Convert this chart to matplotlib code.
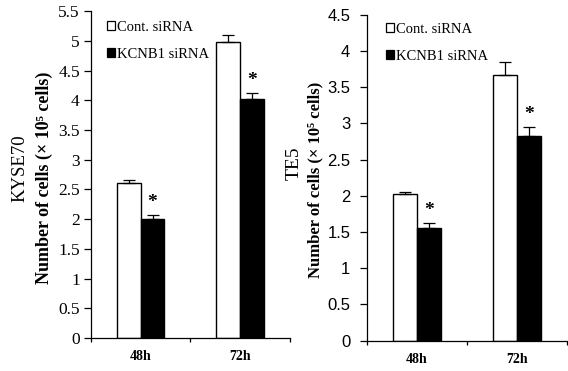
import numpy as np
from matplotlib import pyplot as plt
from matplotlib.patches import Patch

plt.rcParams["font.family"] = ["Liberation Serif", "DejaVu Serif"]

groups = ["48h", "72h"]
series = ["Cont. siRNA", "KCNB1 siRNA"]

# KYSE70 (left panel)
kyse_cont = [2.60, 4.98]
kyse_cont_err = [0.06, 0.11]
kyse_kcnb1 = [2.01, 4.02]
kyse_kcnb1_err = [0.06, 0.11]

# TE5 (right panel)
te5_cont = [2.02, 3.67]
te5_cont_err = [0.03, 0.18]
te5_kcnb1 = [1.55, 2.83]
te5_kcnb1_err = [0.07, 0.12]

fig = plt.figure(figsize=(5.68, 3.71), dpi=100)
ax1 = fig.add_axes([0.160, 0.089, 0.350, 0.881])
ax2 = fig.add_axes([0.646, 0.082, 0.352, 0.878])

width = 0.24
x = np.arange(len(groups)) + 0.5


def draw_panel(ax, cont, cont_err, kcnb, kcnb_err, ymax, tick_font, tick_size, tick_pad,
               legend_pos):
    err_kw = {"elinewidth": 0.9, "capsize": 4, "capthick": 0.9, "ecolor": "black"}
    ax.bar(x - width / 2, cont, width, color="white", edgecolor="black", linewidth=1.0,
           yerr=[np.zeros(len(cont)), cont_err], error_kw=err_kw, zorder=2)
    ax.bar(x + width / 2, kcnb, width, color="black", edgecolor="black", linewidth=1.0,
           yerr=[np.zeros(len(kcnb)), kcnb_err], error_kw=err_kw, zorder=2)
    for xi, v, e in zip(x, kcnb, kcnb_err):
        ax.text(xi + width / 2, v + e + ymax * 0.012, "*", ha="center", va="bottom",
                fontsize=14, fontweight="bold")

    ax.set_xlim(0, 2)
    ax.set_ylim(0, ymax)
    yt = np.arange(0, ymax + 0.01, 0.5)
    ax.set_yticks(yt)
    ax.set_yticklabels(["%g" % t for t in yt], family=tick_font, fontsize=tick_size)
    ax.set_xticks([0, 1, 2])
    ax.set_xticklabels([])
    ax.set_xticks(x, minor=True)
    ax.set_xticklabels(groups, minor=True, fontsize=10, fontweight="bold")
    ax.tick_params(axis="x", which="major", direction="out", length=3, width=0.9)
    ax.tick_params(axis="x", which="minor", length=0, pad=9)
    ax.tick_params(axis="y", direction="out", length=5, width=0.9, pad=tick_pad)
    for side in ["top", "right"]:
        ax.spines[side].set_visible(False)
    for side in ["left", "bottom"]:
        ax.spines[side].set_linewidth(0.9)

    handles = [Patch(facecolor="white", edgecolor="black", linewidth=0.9),
               Patch(facecolor="black", edgecolor="black", linewidth=0.9)]
    ax.legend(handles, series, loc="upper left", bbox_to_anchor=legend_pos, frameon=False,
              borderpad=0, borderaxespad=0,
              handlelength=0.55, handleheight=0.55, handletextpad=0.12, labelspacing=0.95,
              fontsize=10.5)


draw_panel(ax1, kyse_cont, kyse_cont_err, kyse_kcnb1, kyse_kcnb1_err, 5.5,
           ["Liberation Serif"], 12.5, 3, (0.082, 0.97))
draw_panel(ax2, te5_cont, te5_cont_err, te5_kcnb1, te5_kcnb1_err, 4.5,
           ["Liberation Sans", "DejaVu Sans"], 12, 7, (0.095, 0.975))

ylabel = "Number of cells (\u00d7 10\u2075 cells)"
fig.text(20 / 568, 1 - 168 / 371, "KYSE70", rotation=90, ha="center", va="center", fontsize=13.5)
fig.text(44 / 568, 1 - 178 / 371, ylabel, rotation=90, ha="center", va="center",
         fontsize=13, fontweight="bold")
fig.text(294 / 568, 1 - 163 / 371, "TE5", rotation=90, ha="center", va="center", fontsize=14)
fig.text(315 / 568, 1 - 180 / 371, ylabel, rotation=90, ha="center", va="center",
         fontsize=12, fontweight="bold")

fig.savefig("out.png", dpi=100)
